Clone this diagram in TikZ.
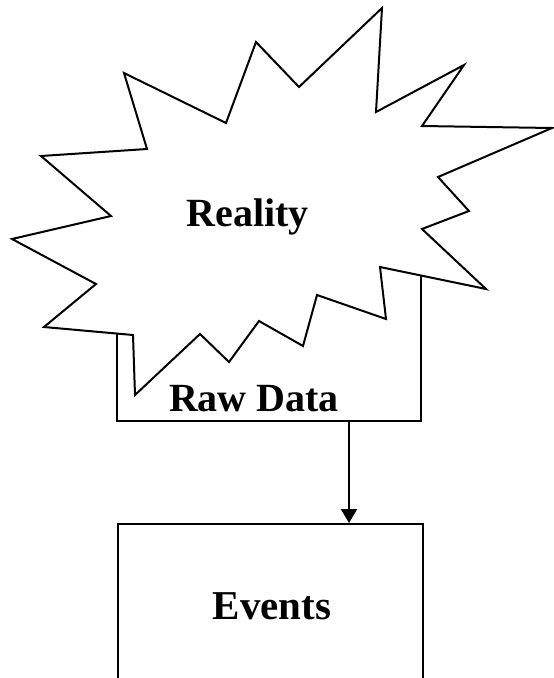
\documentclass[tikz,border=0pt]{standalone}
\usepackage{fontspec}
\setmainfont{Liberation Serif}
\usetikzlibrary{arrows.meta}
\tikzset{
  outline/.style={draw=black, line width=2pt},
  boxnode/.style={outline, rectangle, inner sep=0pt},
  lbl/.style={anchor=base, inner sep=0pt, font=\bfseries\fontsize{40}{48}\selectfont},
  flow/.style={line width=2pt, -{Triangle[width=16pt,length=14pt]}}
}
\begin{document}
\begin{tikzpicture}[x=1pt,y=-1pt]
\useasboundingbox (0,0) rectangle (554,678);
% Raw Data box (under the starburst)
\node[boxnode, minimum width=304pt, minimum height=221pt] (rawdata) at (269,310.5) {};
% Starburst "Reality"
\filldraw[outline, fill=white, line join=miter]
 (382,8) -- (376,112) -- (464,65) -- (422,126) -- (552,128) -- (438,177)
 -- (469,211) -- (422,229) -- (486,289) -- (380,267) -- (386,319)
 -- (317,295) -- (303,346) -- (259,321) -- (229,362) -- (200,334)
 -- (135,395) -- (133,335) -- (44,327) -- (96,284) -- (12,239)
 -- (111,216) -- (41,156) -- (147,149) -- (124,73) -- (226,123)
 -- (256,42) -- (299,87) -- cycle;
\node[lbl] (reality) at (247.5,226) {Reality};
\node[lbl] (rawlabel) at (254,411) {Raw Data};
% Events box (extends past the lower edge)
\node[boxnode, minimum width=305pt, minimum height=180pt] (events) at (270.5,614) {};
\node[lbl, font=\bfseries\fontsize{41}{49}\selectfont] (eventslabel) at (272,619) {Events};
% Arrow
\coordinate (start) at (rawdata.south -| 349,0);
\draw[flow] (start) -- (start |- events.north);
\end{tikzpicture}
\end{document}
